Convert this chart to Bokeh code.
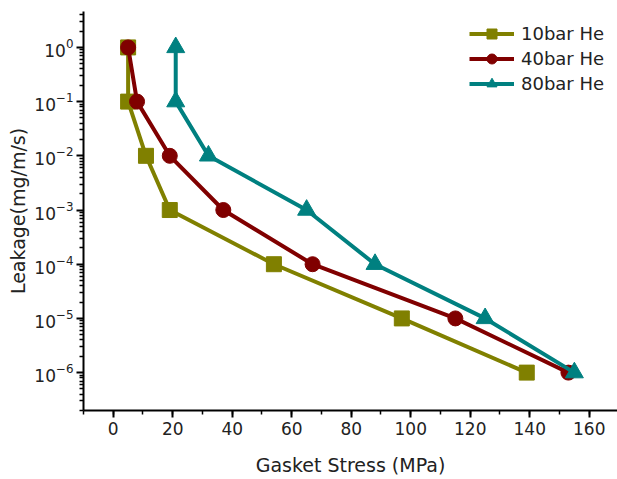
from bokeh.plotting import figure
from bokeh.embed import file_html
from bokeh.resources import INLINE
from bokeh.models import Range1d, Legend, LegendItem, FixedTicker

FONT = "DejaVu Sans"

stress_10 = [5, 5, 11, 19, 54, 97, 139]
leak_10 = [1, 1e-1, 1e-2, 1e-3, 1e-4, 1e-5, 1e-6]
stress_40 = [5, 8, 19, 37, 67, 115, 153]
leak_40 = [1, 1e-1, 1e-2, 1e-3, 1e-4, 1e-5, 1e-6]
stress_80 = [21, 21, 32, 65, 88, 125, 155]
leak_80 = [1, 1e-1, 1e-2, 1e-3, 1e-4, 1e-5, 1e-6]
series_names = ["10bar He", "40bar He", "80bar He"]
x_ticks = [0, 20, 40, 60, 80, 100, 120, 140, 160]
y_ticks = [1e-6, 1e-5, 1e-4, 1e-3, 1e-2, 1e-1, 1]
y_minor = [m * 10.0 ** e for e in range(-7, 1) for m in range(2, 10)]

p = figure(width=617, height=479, y_axis_type="log",
           x_range=Range1d(-10, 169.5), y_range=Range1d(2e-7, 4.6),
           output_backend="svg", toolbar_location=None,
           min_border_left=83, min_border_right=0, min_border_top=11, min_border_bottom=69)
p.outline_line_color = None
p.grid.visible = False
p.background_fill_color = "white"

colors = ["#808000", "#800000", "#008080"]
items = []
for xs, ys, c, name, mk in [
    (stress_10, leak_10, colors[0], series_names[0], "square"),
    (stress_40, leak_40, colors[1], series_names[1], "circle"),
    (stress_80, leak_80, colors[2], series_names[2], "triangle"),
]:
    l = p.line(xs, ys, line_color=c, line_width=4)
    size = 15 if mk != "triangle" else 18
    m = p.scatter(xs, ys, marker=mk, size=size, fill_color=c, line_color=c)
    items.append(LegendItem(label=name, renderers=[l, m]))

legend = Legend(items=items, location="top_right")
legend.border_line_color = None
legend.background_fill_alpha = 0
legend.label_text_font = FONT
legend.label_text_font_size = "18px"
legend.label_text_color = "#222222"
legend.glyph_width = 45
legend.glyph_height = 25
legend.spacing = 0
legend.margin = 10
legend.padding = 4
legend.label_standoff = 7
legend.label_width = 86
p.add_layout(legend)

p.xaxis.ticker = FixedTicker(ticks=x_ticks, minor_ticks=list(range(-10, 171, 10)))
p.yaxis.ticker = FixedTicker(ticks=y_ticks, minor_ticks=y_minor)
p.xaxis.axis_label = "Gasket Stress (MPa)"
p.yaxis.axis_label = "Leakage(mg/m/s)"
for ax in (p.xaxis[0], p.yaxis[0]):
    ax.axis_line_width = 2
    ax.axis_line_color = "black"
    ax.major_tick_line_width = 2
    ax.minor_tick_line_width = 1.5
    ax.major_tick_out = 7
    ax.major_tick_in = 0
    ax.minor_tick_out = 4
    ax.minor_tick_in = 0
    ax.major_label_text_font = FONT
    ax.major_label_text_font_size = "17px"
    ax.major_label_text_color = "#222222"
    ax.axis_label_text_font = FONT
    ax.axis_label_text_font_size = "19px"
    ax.axis_label_text_font_style = "normal"
    ax.axis_label_text_color = "#222222"
p.yaxis.major_label_text_font_size = "17px"
p.xaxis.major_label_standoff = 4
p.xaxis.axis_label_standoff = 16
p.yaxis.major_label_standoff = 3
p.yaxis.axis_label_standoff = 2

open("out.html", "w").write(file_html(p, INLINE))
